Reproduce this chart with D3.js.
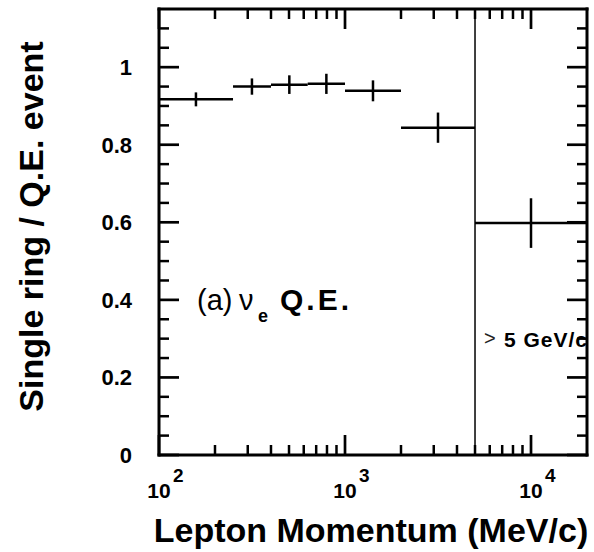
<!DOCTYPE html>
<html><head><meta charset="utf-8">
<script src="https://cdn.jsdelivr.net/npm/d3@7"></script>
<style>body{margin:0;background:#fff;overflow:hidden;} svg{display:block;}</style>
</head><body>
<script>
// ---- data ----
const binLow    = [100, 250, 400, 630, 1000, 2000, 5000];
const binHigh   = [250, 400, 630, 1000, 2000, 5000, 20000];
const binCenter = [158, 316, 502, 794, 1414, 3162, 10000];
const ratio     = [0.917, 0.950, 0.955, 0.957, 0.939, 0.844, 0.598];
const ratioErr  = [0.018, 0.021, 0.024, 0.026, 0.027, 0.039, 0.064];
const yMajorTicks = [0, 0.2, 0.4, 0.6, 0.8, 1];
const yTickLabels = ["0", "0.2", "0.4", "0.6", "0.8", "1"];
const yMinorTicks = [0.05,0.1,0.15,0.25,0.3,0.35,0.45,0.5,0.55,0.65,0.7,0.75,0.85,0.9,0.95,1.05,1.1];
const xMajorTicks = [100, 1000, 10000];
const xTickBase = "10";
const xTickExponents = ["2", "3", "4"];
const xMinorTicks = [200,300,400,500,600,700,800,900,2000,3000,4000,5000,6000,7000,8000,9000];
const cutValue = 5000;
const xDomain = [100, 20000];
const yDomain = [0, 1.15];

// ---- layout ----
const FF = "Liberation Sans, Arial, sans-serif";
const PL = 159, PR = 587, PT = 9, PB = 455;
const svg = d3.select("body").append("svg").attr("width", 594).attr("height", 552);
const x = d3.scaleLog().domain(xDomain).range([PL, PR]);
const y = d3.scaleLinear().domain(yDomain).range([PB, PT]);

function seg(g, x1, y1, x2, y2, sw) {
  g.append("line").attr("x1", x1).attr("y1", y1).attr("x2", x2).attr("y2", y2)
    .attr("stroke", "#000").attr("stroke-width", sw);
}

// frame
const fg = svg.append("g");
seg(fg, PL, PT - 1.5, PL, PB + 1.5, 3);
seg(fg, PR, PT - 1.5, PR, PB + 1.5, 3);
seg(fg, PL - 1.5, PT, PR + 1.5, PT, 3);
seg(fg, PL - 1.5, PB, PR + 1.5, PB, 3);

// ticks (inward on all four sides)
const tg = svg.append("g");
xMajorTicks.forEach(v => { seg(tg, x(v), PB, x(v), PB - 20, 2.7); seg(tg, x(v), PT, x(v), PT + 20, 2.7); });
xMinorTicks.forEach(v => { seg(tg, x(v), PB, x(v), PB - 10, 2.5); seg(tg, x(v), PT, x(v), PT + 10, 2.5); });
yMajorTicks.forEach(v => { seg(tg, PL, y(v), PL + 20, y(v), 2.7); seg(tg, PR, y(v), PR - 20, y(v), 2.7); });
yMinorTicks.forEach(v => { seg(tg, PL, y(v), PL + 10, y(v), 2.5); seg(tg, PR, y(v), PR - 10, y(v), 2.5); });

// separator at 5 GeV/c
seg(svg, x(cutValue), y(yDomain[0]), x(cutValue), y(yDomain[1]), 1.5);

// data: horizontal bin bars and vertical error bars
const dg = svg.append("g");
ratio.forEach((r, i) => {
  seg(dg, x(binLow[i]), y(r), x(binHigh[i]), y(r), 2.5);
  seg(dg, x(binCenter[i]), y(r - ratioErr[i]), x(binCenter[i]), y(r + ratioErr[i]), 2.5);
});

function txt(x0, y0, s, size, bold, anchor) {
  return svg.append("text").attr("x", x0).attr("y", y0).attr("font-family", FF)
    .attr("font-size", size).attr("font-weight", bold ? "bold" : "normal")
    .attr("text-anchor", anchor || "start").attr("fill", "#000").text(s);
}

// y tick labels
yMajorTicks.forEach((v, i) => txt(132, y(v) + 8, yTickLabels[i], 22, true, "end"));
// x tick labels 10^n
xMajorTicks.forEach((v, i) => {
  txt(x(v), 498, xTickBase, 21, true, "middle");
  txt(x(v) + 14, 482, xTickExponents[i], 19, true, "start");
});

// axis titles
txt(371, 542, "Lepton Momentum (MeV/c)", 34, true, "middle");
svg.append("text").attr("transform", "translate(43,226.5) rotate(-90)").attr("text-anchor", "middle")
  .attr("font-family", FF).attr("font-size", 34).attr("font-weight", "bold").text("Single ring / Q.E. event");

// panel label
txt(197, 310, "(a)", 29, false);
txt(239, 310, "ν", 29, false);
txt(258, 322, "e", 18, true);
txt(280, 310, "Q.E.", 30, true).attr("letter-spacing", 3);

// > 5 GeV/c
txt(484, 345, ">", 20, false).attr("fill", "#222");
txt(504, 346.5, "5 GeV/c", 21, true).attr("letter-spacing", 1);
</script>
</body></html>
